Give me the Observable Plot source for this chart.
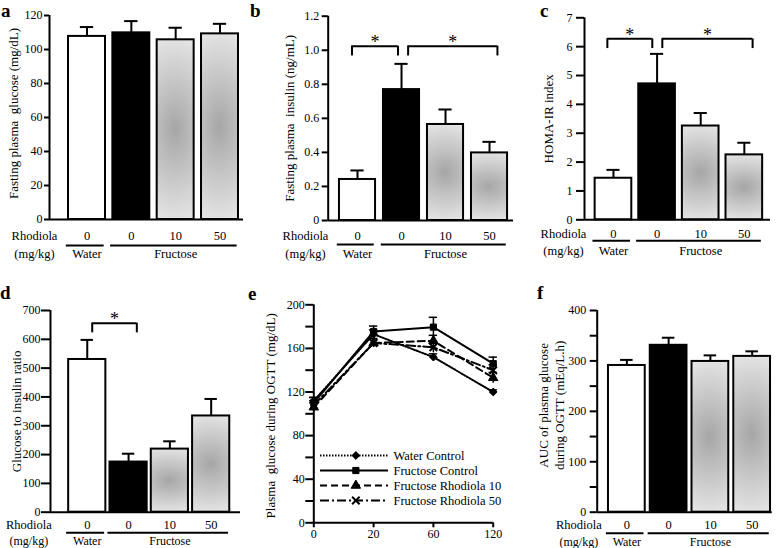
<!DOCTYPE html>
<html><head><meta charset="utf-8">
<script src="https://cdn.jsdelivr.net/npm/d3@7"></script>
<script src="https://cdn.jsdelivr.net/npm/@observablehq/plot@0.6"></script>
<style>
body{margin:0;background:#fff;}
#root{position:relative;width:777px;height:548px;overflow:hidden;background:#fff;font-family:"Liberation Serif","Times New Roman","DejaVu Serif",serif;}
.panel{position:absolute;}
.panel svg text{font-family:"Liberation Serif","Times New Roman","DejaVu Serif",serif;}
.letter{position:absolute;font-weight:bold;font-size:19px;font-family:"Liberation Serif","Times New Roman","DejaVu Serif",serif;line-height:1;}
</style></head><body>
<svg width="0" height="0" style="position:absolute"><defs>
<radialGradient id="barGrad" cx="0.5" cy="0.5" r="0.55" gradientTransform="translate(0.5,0.5) scale(2.5,1) translate(-0.5,-0.5)">
<stop offset="0" stop-color="#a6a6a6"/><stop offset="1" stop-color="#e8e8e8"/></radialGradient></defs></svg>
<div id="root"></div>
<script>
// ---------- data ----------
const doseLabels = ["0", "0", "10", "50"];
const groupOfBar = ["Water", "Fructose", "Fructose", "Fructose"];
const groupNames = ["Water", "Fructose"];

const glucoseMean = [107.7, 109.8, 105.7, 109.2];
const glucoseSem = [5.5, 6.9, 7.1, 5.9];
const insulinMean = [0.241, 0.769, 0.564, 0.397];
const insulinSem = [0.053, 0.151, 0.088, 0.065];
const homaMean = [1.44, 4.71, 3.25, 2.25];
const homaSem = [0.29, 1.04, 0.45, 0.42];
const ratioMean = [530, 174, 219, 334];
const ratioSem = [68, 29, 27, 59];
const aucMean = [291, 331, 299, 309];
const aucSem = [11, 15, 12, 10];

const ogttTimes = ["0", "20", "60", "120"];
const seriesNames = ["Water Control", "Fructose Control", "Fructose Rhodiola 10", "Fructose Rhodiola 50"];
const waterCtrlGlucose = [112, 173, 152, 120];
const waterCtrlSem = [3, 4, 3, 2];
const fructoseCtrlGlucose = [110, 175.5, 179.5, 146];
const fructoseCtrlSem = [5, 5, 9, 6];
const rhodiola10Glucose = [106, 165, 167, 133];
const rhodiola10Sem = [4, 4, 5, 5];
const rhodiola50Glucose = [108, 165, 161, 140];
const rhodiola50Sem = [4, 4, 5, 5];

const ticksA = [0, 20, 40, 60, 80, 100, 120];
const ticksB = [0, 0.2, 0.4, 0.6, 0.8, 1.0, 1.2];
const ticksC = [0, 1, 2, 3, 4, 5, 6, 7];
const ticksD = [0, 100, 200, 300, 400, 500, 600, 700];
const ticksE = [0, 20, 40, 60, 80, 100, 120, 140, 160, 180, 200];
const labeledE = [0, 40, 80, 120, 160, 200];
const ticksF = [0, 50, 100, 150, 200, 250, 300, 350, 400];
const labeledF = [0, 100, 200, 300, 400];

const sigB = [[1, 2], [2, 4]];
const sigC = [[1, 2], [2, 4]];
const sigD = [[1, 2]];

const titles = {
  a: "Fasting plasma  glucose (mg/dL)",
  b: "Fasting plasma  insulin (ng/mL)",
  c: "HOMA-IR index",
  d: "Glucose to insulin ratio",
  e: "Plasma  glucose during OGTT (mg/dL)",
  f: "AUC of plasma glucose\nduring OGTT (mEq/L.h)"
};

// ---------- helpers ----------
const root = document.getElementById("root");
const FAMILY = "'Liberation Serif', 'Times New Roman', 'DejaVu Serif', serif";
const STYLE = {background: "transparent", fontFamily: FAMILY, fontSize: "12px", overflow: "visible"};
function place(el, left, top, w, h) {
  const d = document.createElement("div");
  d.className = "panel";
  d.style.left = left + "px"; d.style.top = top + "px";
  d.style.width = w + "px"; d.style.height = h + "px";
  d.appendChild(el);
  root.appendChild(d);
}
function letter(t, left, top) {
  const d = document.createElement("div");
  d.className = "letter"; d.textContent = t;
  d.style.left = left + "px"; d.style.top = top + "px";
  root.appendChild(d);
}

function barPanel(c) {
  const bars = c.mean.map((m, k) => ({
    i: k + 1, mean: m, top: m + c.sem[k], dose: doseLabels[k], group: groupOfBar[k],
    fill: k === 0 ? "white" : k === 1 ? "black" : "url(#barGrad)"
  }));
  const hw = c.hw, cap = 0.15;
  const grp = groupNames.map(g => {
    const idx = bars.filter(b => b.group === g).map(b => b.i);
    const a = d3.min(idx), z = d3.max(idx);
    return {name: g, x1: a - hw - 0.05, x2: z + hw - 0.03, xc: (a + z) / 2};
  });
  const legLen = c.domain[1] * 0.048;
  const br = (c.sig || []).map(([f, t], k) => ({x1: f + c.brOff[k][0], x2: t + c.brOff[k][1], y: c.brLevel}));
  const fmt = c.fmt || (d => c.labeled ? (c.labeled.includes(d) ? String(d) : "") : String(d));
  const chart = Plot.plot({
    width: c.w, height: c.h,
    marginLeft: c.ml, marginRight: c.mr, marginTop: c.mt, marginBottom: c.mb,
    style: STYLE,
    x: {domain: c.xDomain, axis: null, label: null},
    y: {domain: c.domain, label: null},
    color: {type: "identity"},
    marks: [
      Plot.ruleX(bars, {x: "i", y1: "mean", y2: "top", stroke: "black", strokeWidth: 2}),
      Plot.ruleY(bars, {y: "top", x1: d => d.i - cap, x2: d => d.i + cap, stroke: "black", strokeWidth: 2}),
      Plot.rect(bars, {x1: d => d.i - hw, x2: d => d.i + hw, y1: 0, y2: "mean", fill: "fill", stroke: "black", strokeWidth: 2}),
      Plot.ruleX([c.xDomain[0]], {stroke: "black", strokeWidth: 2}),
      Plot.ruleY([0], {stroke: "black", strokeWidth: 2}),
      Plot.axisY({ticks: c.ticks, tickFormat: fmt, tickSize: c.tickSize, tickPadding: c.tickPad, strokeWidth: 2, fontSize: 12, fontFamily: FAMILY, label: null}),
      Plot.ruleY(br, {y: "y", x1: "x1", x2: "x2", strokeWidth: 2}),
      Plot.ruleX(br, {x: "x1", y1: d => d.y - legLen, y2: "y", strokeWidth: 2}),
      Plot.ruleX(br, {x: "x2", y1: d => d.y - legLen, y2: "y", strokeWidth: 2}),
      Plot.text(br, {x: d => (d.x1 + d.x2) / 2, y: "y", text: () => "*", fontSize: 18, fontFamily: FAMILY, dy: -4}),
      Plot.text(bars, {x: "i", y: 0, text: "dose", dy: c.dyNum, fontSize: 12.5, fontFamily: FAMILY}),
      Plot.ruleY(grp, {y: 0, x1: "x1", x2: "x2", dy: c.dyLine, strokeWidth: 2}),
      Plot.text(grp, {x: "xc", y: 0, text: "name", dy: c.dyGroup, fontSize: c.groupFont || 12.5, fontFamily: FAMILY}),
      Plot.text(["Rhodiola"], {frameAnchor: "bottom-left", textAnchor: "middle", lineAnchor: "middle", dx: c.rhDx, dy: c.dyNum, fontSize: 12.5, fontFamily: FAMILY}),
      Plot.text(["(mg/kg)"], {frameAnchor: "bottom-left", textAnchor: "middle", lineAnchor: "middle", dx: c.rhDx, dy: c.dyGroup, fontSize: c.groupFont || 12.5, fontFamily: FAMILY}),
      Plot.text([c.title], {frameAnchor: "left", textAnchor: "middle", lineAnchor: "middle", rotate: -90, dx: -c.titleOff, dy: c.titleDy || 0, fontSize: 13, fontFamily: FAMILY, lineHeight: 1.28})
    ]
  });
  place(chart, c.left, c.top, c.w, c.h);
}

// ---------- panels a, b, c, d, f ----------
barPanel({left: 0, top: 0, w: 255, h: 270, ml: 49, mr: 12, mt: 15, mb: 51,
  xDomain: [0.154, 4.53], domain: [0, 120], ticks: ticksA, mean: glucoseMean, sem: glucoseSem,
  hw: 0.417, tickSize: 5, tickPad: 2, title: titles.a, titleOff: 37, titleDy: -4,
  rhDx: -15, dyNum: 16, dyLine: 26, dyGroup: 34});

barPanel({left: 255, top: 0, w: 265, h: 270, ml: 72.7, mr: 7, mt: 15.7, mb: 50,
  xDomain: [0.334, 4.545], domain: [0, 1.2], ticks: ticksB, fmt: d => d === 0 ? "0" : d.toFixed(1),
  mean: insulinMean, sem: insulinSem, hw: 0.41, tickSize: 6, tickPad: 3, title: titles.b, titleOff: 40,
  rhDx: -22.7, dyNum: 15, dyLine: 24, dyGroup: 33,
  sig: sigB, brOff: [[-0.125, -0.08], [0.15, 0.18]], brLevel: 1.024});

barPanel({left: 520, top: 0, w: 257, h: 270, ml: 64, mr: 7, mt: 17.3, mb: 50.7,
  xDomain: [0.336, 4.6], domain: [0, 7], ticks: ticksC, mean: homaMean, sem: homaSem,
  hw: 0.42, tickSize: 8, tickPad: 4, title: titles.c, titleOff: 37,
  rhDx: -21, dyNum: 14, dyLine: 21, dyGroup: 31,
  sig: sigC, brOff: [[-0.14, -0.11], [0.12, 0.19]], brLevel: 6.27});

barPanel({left: 0, top: 275, w: 255, h: 273, ml: 50, mr: 15, mt: 35, mb: 36.3,
  xDomain: [0.11, 4.71], domain: [0, 700], ticks: ticksD, mean: ratioMean, sem: ratioSem,
  hw: 0.45, tickSize: 9, tickPad: 1, title: titles.d, titleOff: 35,
  rhDx: -21.7, dyNum: 12.5, dyLine: 20.5, dyGroup: 29, groupFont: 12,
  sig: sigD, brOff: [[0.12, 0.2]], brLevel: 656});

barPanel({left: 515, top: 275, w: 262, h: 273, ml: 81.7, mr: 5.3, mt: 35, mb: 36.3,
  xDomain: [0.29, 4.48], domain: [0, 400], ticks: ticksF, labeled: labeledF, mean: aucMean, sem: aucSem,
  hw: 0.44, tickSize: 7, tickPad: 4, title: titles.f, titleOff: 46.7, titleDy: -6,
  rhDx: -18.4, dyNum: 13, dyLine: 21, dyGroup: 29.5, groupFont: 12});

// ---------- panel e ----------
const seriesStyle = [
  {dash: "1.5,1.5", symbol: "diamond2"},
  {dash: null, symbol: "square"},
  {dash: "7,4", symbol: "triangle"},
  {dash: "9,3,2,3", symbol: "times"}
];
const seriesValues = [waterCtrlGlucose, fructoseCtrlGlucose, rhodiola10Glucose, rhodiola50Glucose];
const seriesSem = [waterCtrlSem, fructoseCtrlSem, rhodiola10Sem, rhodiola50Sem];
const eMarks = [];
seriesNames.forEach((name, s) => {
  const pts = ogttTimes.map((t, k) => ({k, v: seriesValues[s][k], e: seriesSem[s][k]}));
  const st = seriesStyle[s];
  eMarks.push(Plot.ruleX(pts, {x: "k", y1: d => d.v - d.e, y2: d => d.v + d.e, stroke: "black", strokeWidth: 1.5}));
  eMarks.push(Plot.ruleY(pts, {y: d => d.v + d.e, x1: d => d.k - 0.07, x2: d => d.k + 0.07, stroke: "black", strokeWidth: 1.5}));
  eMarks.push(Plot.line(pts, {x: "k", y: "v", stroke: "black", strokeWidth: 2, strokeDasharray: st.dash || undefined}));
  eMarks.push(Plot.dot(pts, {x: "k", y: "v", symbol: st.symbol, r: 3.5, fill: "black", stroke: "black", strokeWidth: st.symbol === "times" ? 2 : 1}));
});
const chartE = Plot.plot({
  width: 262, height: 273, marginLeft: 58.3, marginRight: 24.3, marginTop: 29.3, marginBottom: 25.7,
  style: STYLE,
  x: {domain: [0, 3], label: null},
  y: {domain: [0, 200], label: null},
  marks: [
    Plot.ruleX([0], {stroke: "black", strokeWidth: 2}),
    Plot.ruleY([0], {stroke: "black", strokeWidth: 2}),
    Plot.axisY({ticks: ticksE, tickFormat: d => labeledE.includes(d) ? String(d) : "", tickSize: 8, tickPadding: 1, strokeWidth: 2, fontSize: 12, fontFamily: FAMILY, label: null}),
    Plot.axisX({ticks: [0, 1, 2, 3], tickFormat: k => ogttTimes[k], tickSize: 5, tickPadding: 2, strokeWidth: 2, fontSize: 12, fontFamily: FAMILY, label: null}),
    ...eMarks,
    Plot.text([titles.e], {frameAnchor: "left", textAnchor: "middle", lineAnchor: "middle", rotate: -90, dx: -43, dy: 2, fontSize: 13, fontFamily: FAMILY})
  ]
});
place(chartE, 255, 275, 262, 273);

// legend overlay for panel e
const legMarks = [];
seriesNames.forEach((name, s) => {
  const st = seriesStyle[s];
  legMarks.push(Plot.ruleY([name], {y: d => d, x1: 0, x2: 1, stroke: "black", strokeWidth: 2, strokeDasharray: st.dash || undefined}));
  legMarks.push(Plot.dot([name], {x: 0.52, y: d => d, symbol: st.symbol, r: 3.5, fill: "black", stroke: "black", strokeWidth: st.symbol === "times" ? 2 : 1}));
});
const legend = Plot.plot({
  width: 220, height: 70, marginLeft: 20, marginRight: 132, marginTop: 15, marginBottom: 10,
  style: STYLE,
  x: {domain: [0, 1], axis: null},
  y: {type: "point", domain: seriesNames, padding: 0, axis: null},
  marks: [
    ...legMarks,
    Plot.text(seriesNames, {x: 1, y: d => d, dx: 5, textAnchor: "start", fontSize: 12.5, fontFamily: FAMILY})
  ]
});
place(legend, 300, 440, 220, 70);

// panel letters
letter("a", 1, 1);
letter("b", 250, 1);
letter("c", 540, 1);
letter("d", 0, 283);
letter("e", 248, 284);
letter("f", 537, 283);
</script>
</body></html>
